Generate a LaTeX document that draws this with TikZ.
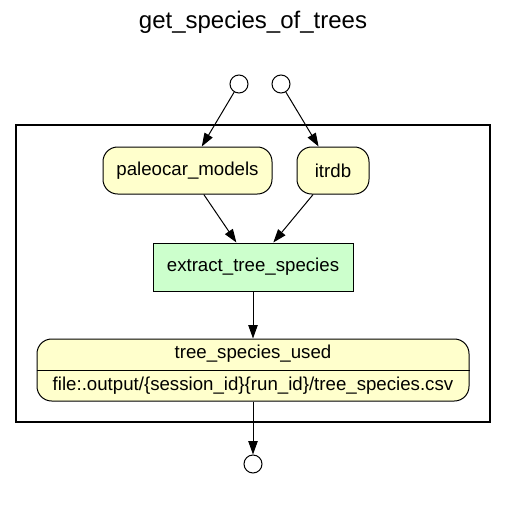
\documentclass[tikz,border=0pt]{standalone}
\usepackage{fontspec}
\setmainfont{Liberation Sans}
\usetikzlibrary{arrows.meta}
\definecolor{yfill}{HTML}{FFFFCC}
\definecolor{gfill}{HTML}{CCFFCC}
\begin{document}
\begin{tikzpicture}[x=0.75pt,y=-0.75pt,
  every node/.style={font=\fontsize{14pt}{16pt}\selectfont, inner sep=0pt},
  port/.style={circle, draw, line width=0.75pt, minimum size=13.5pt, fill=white},
  datanode/.style={rectangle, rounded corners=11pt, draw, line width=0.75pt, fill=yfill, minimum height=35.25pt},
  stepbox/.style={rectangle, draw, line width=0.75pt, fill=gfill, minimum height=36pt},
  edge/.style={-{Triangle[length=10pt,width=7pt]}, line width=0.75pt}]
\useasboundingbox (0,0) rectangle (507,511);
\node[font=\fontsize{18pt}{20pt}\selectfont] (title) at (253,22) {get\_species\_of\_trees};
\draw[line width=1.5pt] (16,125) rectangle (490,422);
\node[port] (c1) at (239,84) {};
\node[port] (c2) at (281,84) {};
\node[datanode, minimum width=126.75pt] (pm) at (187.5,170.5) {paleocar\_models};
\node[datanode, minimum width=54pt] (it) at (333,170.5) {itrdb};
\node[stepbox, minimum width=150pt] (ex) at (253,267) {extract\_tree\_species};
\node[datanode, minimum width=324pt, minimum height=46.5pt] (tsu) at (253,370) {};
\node (tsuA) at (253,354) {tree\_species\_used};
\node (tsuB) at (253,386) {file:.output/\{session\_id\}\{run\_id\}/tree\_species.csv};
\coordinate (div) at (253,370);
\draw[line width=0.75pt] (tsu.west |- div) -- (tsu.east |- div);
\node[port] (c3) at (253,464) {};
\draw[edge] (c1) -- (pm);
\draw[edge] (c2) -- (it);
\draw[edge] (pm) -- (ex);
\draw[edge] (it) -- (ex);
\draw[edge] (ex) -- (tsu);
\draw[edge] (tsu) -- (c3);
\end{tikzpicture}
\end{document}
